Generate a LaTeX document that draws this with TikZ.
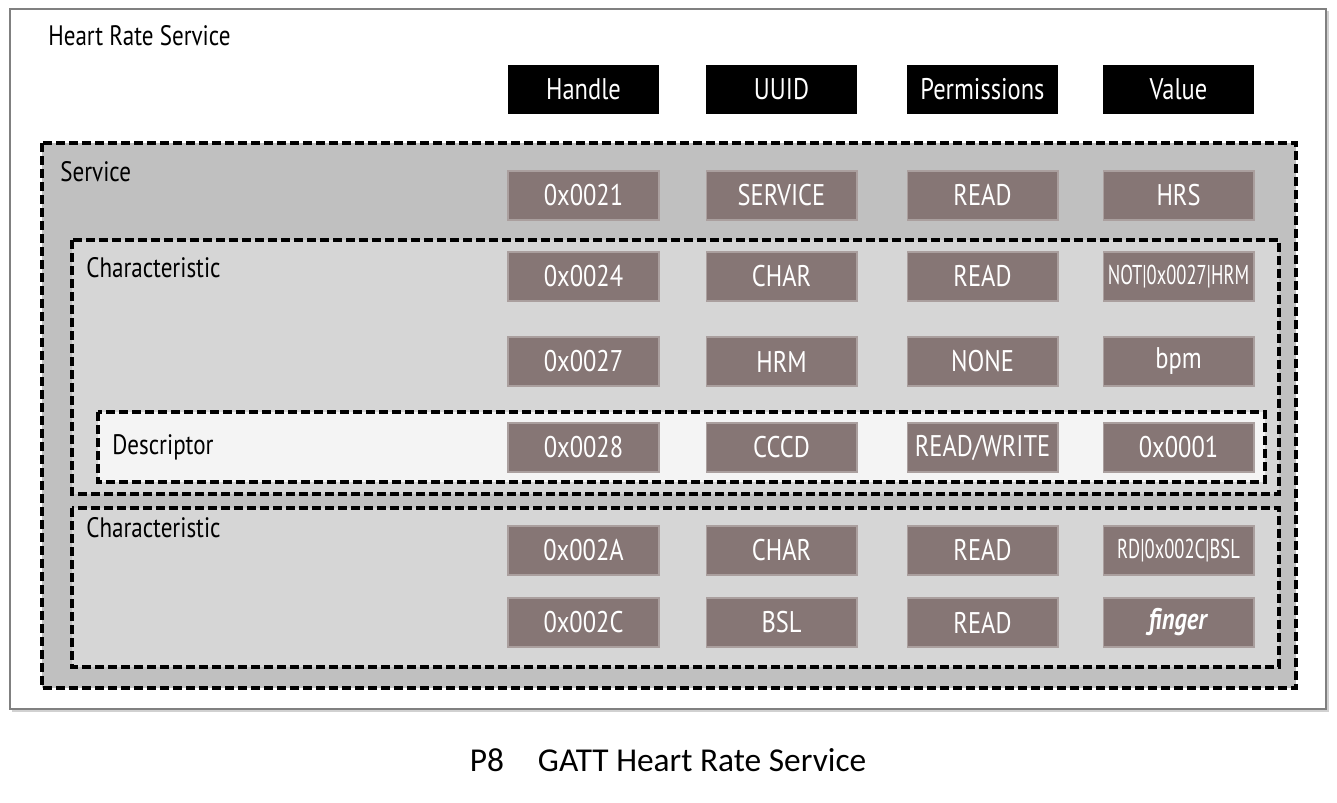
\documentclass[tikz,border=0pt]{standalone}
\usepackage{fontspec}
\setmainfont{PT Sans}[FakeStretch=0.82]
\newfontfamily\capfont{Carlito}
\usetikzlibrary{positioning}
\definecolor{cellfill}{HTML}{867675}
\definecolor{srvfill}{HTML}{C0C0C0}
\definecolor{chrfill}{HTML}{D6D6D6}
\definecolor{dscfill}{HTML}{F4F4F4}
\definecolor{framegray}{HTML}{808080}
\newcommand{\tight}{\fontsize{15.5}{18}\selectfont\addfontfeatures{FakeStretch=0.68}}

\begin{document}
\begin{tikzpicture}[x=0.02cm,y=-0.02cm, every node/.style={inner sep=0pt},
  head/.style={fill=black,text=white,minimum width=3.02cm,minimum height=0.98cm,font=\fontsize{17}{20}\selectfont},
  cell/.style={fill=cellfill,draw=cellfill!70!white,line width=0.6pt,text=white,minimum width=3.02cm,minimum height=0.98cm,font=\fontsize{17}{20}\selectfont},
  group/.style={draw=black,line width=2.2pt,dash pattern=on 5pt off 2.4pt,fill=#1},
  lbl/.style={anchor=west,font=\fontsize{16}{19}\selectfont}]
  \useasboundingbox (0,0) rectangle (1337,802);
  % outer frame with light shadow
  \fill[black!18] (12,11) rectangle (1329,712);
  \draw[framegray,line width=1.4pt,fill=white] (10,9) rectangle (1326,709);
  \node[lbl] (title) at (48,36) {Heart Rate Service};
  % column headers
  \node[head] (hHandle) at (583.5,89.5) {Handle};
  \node[head] (hUUID) at (781.5,89.5) {UUID};
  \node[head] (hPerm) at (982.5,89.5) {Permissions};
  \node[head] (hValue) at (1178.5,89.5) {Value};
  % nested groups
  \draw[group=srvfill] (42,143) rectangle (1296,688);
  \node[lbl] (srv) at (60,172) {Service};
  \draw[group=chrfill] (72,240) rectangle (1279,494);
  \node[lbl] (chr1) at (86,268) {Characteristic};
  \draw[group=dscfill] (98,412) rectangle (1265,482);
  \node[lbl] (dsc) at (112,447) {Descriptor};
  \draw[group=chrfill] (72,508) rectangle (1279,667);
  \node[lbl] (chr2) at (86,528) {Characteristic};
  % attribute rows
  \foreach \y/\a/\b/\c/\d/\n in {
      195.5/0x0021/SERVICE/READ/HRS/1,
      276.5/0x0024/CHAR/READ/{\tight NOT|0x0027|HRM}/2,
      361.5/0x0027/HRM/NONE/bpm/3,
      447.5/0x0028/CCCD/READ\slash WRITE/0x0001/4,
      550.5/0x002A/CHAR/READ/{\tight RD|0x002C|BSL}/5,
      622.5/0x002C/BSL/READ/{\textbf{\textit{finger}}}/6} {
    \node[cell] (h\n) at (583.5,\y) {\a};
    \node[cell] (u\n) at (781.5,\y) {\b};
    \node[cell] (p\n) at (982.5,\y) {\c};
    \node[cell] (v\n) at (1178.5,\y) {\d};
  }
  \node[font=\capfont\fontsize{19}{22}\selectfont] (cap) at (668,760) {P8\hspace{0.68cm}GATT Heart Rate Service};
\end{tikzpicture}
\end{document}
